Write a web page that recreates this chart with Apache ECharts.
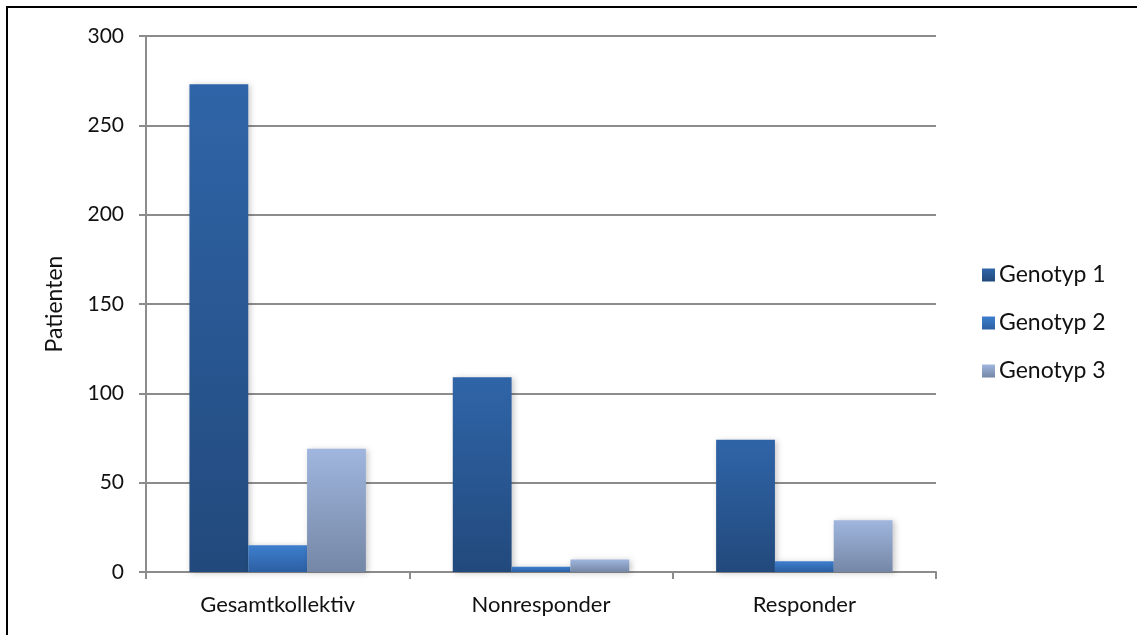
<!DOCTYPE html>
<html>
<head>
<meta charset="utf-8">
<script src="https://cdn.jsdelivr.net/npm/echarts@6/dist/echarts.min.js"></script>
<style>
  html, body { margin: 0; padding: 0; background: #fff; }
  #chart { width: 1137px; height: 635px; }
</style>
</head>
<body>
<div id="chart"></div>
<script>
// Patient counts per genotype and response group
const categories = ['Gesamtkollektiv', 'Nonresponder', 'Responder'];
const genotyp1 = [273, 109, 74];
const genotyp2 = [15, 3, 6];
const genotyp3 = [69, 7, 29];
const seriesNames = ['Genotyp 1', 'Genotyp 2', 'Genotyp 3'];

const FONT = 'Lato, "Open Sans", sans-serif';

function grad(top, bottom) {
  return new echarts.graphic.LinearGradient(0, 0, 0, 1, [
    { offset: 0, color: top },
    { offset: 1, color: bottom }
  ]);
}

const fills = [
  grad('#2f65a8', '#22497c'),
  grad('#3e7fce', '#2c5fa3'),
  grad('#a0b6de', '#7587a6')
];

function bar(name, data, fill) {
  return {
    name: name,
    type: 'bar',
    data: data,
    barGap: '0%',
    barCategoryGap: '33%',
    itemStyle: {
      color: fill,
      shadowColor: 'rgba(0,0,0,0.22)',
      shadowBlur: 6,
      shadowOffsetX: 2,
      shadowOffsetY: 1
    }
  };
}

const chart = echarts.init(document.getElementById('chart'));
chart.setOption({
  animation: false,
  backgroundColor: '#fff',
  grid: { left: 146, right: 201, top: 36, bottom: 63 },
  legend: {
    orient: 'vertical',
    left: 977,
    top: 258,
    itemWidth: 13,
    itemHeight: 13,
    itemGap: 24,
    icon: 'rect',
    textStyle: { fontFamily: FONT, fontSize: 23, lineHeight: 24, color: '#111', padding: [0, 0, 0, -1] },
    data: seriesNames
  },
  xAxis: {
    type: 'category',
    data: categories,
    axisLine: { lineStyle: { color: '#8c8c8c', width: 2 } },
    axisTick: { show: true, length: 7, lineStyle: { color: '#8c8c8c', width: 2 } },
    axisLabel: { fontFamily: FONT, fontSize: 22, color: '#111', margin: 22 }
  },
  yAxis: {
    type: 'value',
    min: 0,
    max: 300,
    interval: 50,
    name: 'Patienten',
    nameLocation: 'middle',
    nameGap: 80,
    nameTextStyle: { fontFamily: FONT, fontSize: 23, color: '#111' },
    axisLine: { show: true, lineStyle: { color: '#8c8c8c', width: 2 } },
    axisTick: { show: true, length: 7, lineStyle: { color: '#8c8c8c', width: 2 } },
    axisLabel: { fontFamily: FONT, fontSize: 21, color: '#111', margin: 22 },
    splitLine: { lineStyle: { color: '#8c8c8c', width: 2 } }
  },
  graphic: [
    {
      type: 'polyline',
      shape: { points: [[7, 635], [7, 7], [1137, 7]] },
      style: { stroke: '#000', lineWidth: 2, fill: null }
    }
  ],
  series: [
    bar(seriesNames[0], genotyp1, fills[0]),
    bar(seriesNames[1], genotyp2, fills[1]),
    bar(seriesNames[2], genotyp3, fills[2])
  ]
});
</script>
</body>
</html>
